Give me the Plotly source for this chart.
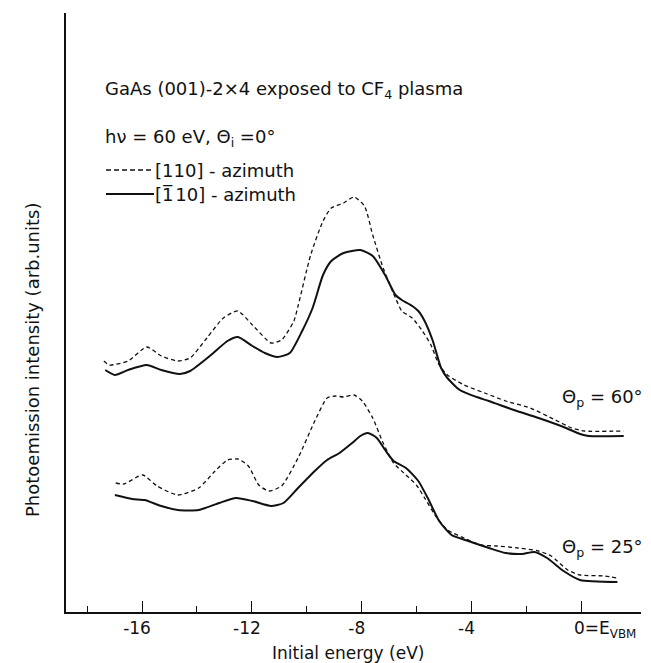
import plotly.graph_objects as go

# ---- data (initial energy in eV, intensity in arbitrary units) ----
e_110_60 = [-17.39, -17.19, -16.51, -15.83, -15.30, -14.70, -14.25, -13.64, -13.04, -12.51,
            -11.98, -11.30, -10.92, -10.47, -10.32, -9.86, -9.41, -9.11, -8.66, -8.28,
            -7.90, -7.60, -7.22, -6.77, -6.54, -6.16, -5.79, -5.48, -5.18, -4.88,
            -4.27, -3.52, -2.76, -1.86, -0.95, -0.35, 0.11, 1.54]
i_110_60 = [2.51, 2.47, 2.51, 2.65, 2.56, 2.51, 2.54, 2.74, 2.94, 3.01,
            2.87, 2.69, 2.72, 2.91, 3.06, 3.57, 3.91, 4.04, 4.09, 4.15,
            4.06, 3.77, 3.44, 3.14, 3.01, 2.94, 2.81, 2.67, 2.47, 2.37,
            2.27, 2.19, 2.11, 2.04, 1.92, 1.84, 1.81, 1.81]

e_m110_60 = [-17.34, -16.99, -16.51, -15.83, -15.30, -14.62, -14.25, -13.49, -12.89, -12.51,
             -11.98, -11.53, -11.07, -10.62, -10.17, -9.79, -9.41, -9.11, -8.66, -8.05,
             -7.60, -7.15, -6.77, -6.54, -6.16, -5.94, -5.71, -5.41, -5.11, -4.88,
             -4.43, -3.82, -3.37, -2.46, -1.56, -0.65, -0.05, 0.26, 1.54]
i_m110_60 = [2.42, 2.37, 2.42, 2.47, 2.42, 2.38, 2.41, 2.57, 2.71, 2.75,
             2.66, 2.59, 2.55, 2.59, 2.81, 3.04, 3.37, 3.51, 3.59, 3.62,
             3.56, 3.37, 3.17, 3.12, 3.06, 3.01, 2.91, 2.71, 2.44, 2.34,
             2.22, 2.15, 2.11, 2.02, 1.94, 1.85, 1.78, 1.76, 1.76]

e_110_25 = [-16.96, -16.66, -15.98, -15.45, -14.70, -13.94, -13.34, -12.89, -12.51, -12.13,
            -11.75, -11.38, -10.92, -10.32, -9.71, -9.26, -8.96, -8.66, -8.28, -7.98,
            -7.60, -7.22, -6.84, -6.39, -6.01, -5.71, -5.33, -4.88, -4.27, -3.66,
            -3.07, -2.31, -1.56, -1.10, -0.50, -0.05, 0.86, 1.31]
i_110_25 = [1.29, 1.28, 1.37, 1.26, 1.17, 1.24, 1.41, 1.52, 1.53, 1.46,
            1.27, 1.21, 1.26, 1.54, 1.91, 2.14, 2.16, 2.15, 2.17, 2.11,
            1.94, 1.69, 1.49, 1.37, 1.27, 1.14, 0.97, 0.82, 0.74, 0.67,
            0.66, 0.64, 0.61, 0.56, 0.42, 0.37, 0.36, 0.34]

e_m110_25 = [-16.99, -16.36, -15.91, -15.30, -14.70, -13.94, -13.19, -12.58, -11.98, -11.30,
             -10.85, -10.32, -9.71, -9.26, -8.81, -8.35, -8.05, -7.78, -7.45, -7.15,
             -6.84, -6.39, -5.94, -5.56, -5.18, -4.73, -4.12, -3.37, -2.76, -2.16,
             -1.71, -1.25, -0.65, -0.05, 1.31]
i_m110_25 = [1.17, 1.13, 1.12, 1.06, 1.02, 1.02, 1.09, 1.14, 1.11, 1.06,
             1.09, 1.24, 1.41, 1.52, 1.59, 1.69, 1.76, 1.79, 1.74, 1.62,
             1.51, 1.44, 1.31, 1.12, 0.91, 0.77, 0.71, 0.64, 0.59, 0.58,
             0.60, 0.54, 0.41, 0.32, 0.30]

major_ticks = [-16, -12, -8, -4]
major_labels = ["-16", "-12", "-8", "-4"]
minor_ticks = [-18, -14, -10, -6, -2]

# ---- figure ----
W, H = 651, 663
L, R, T, B = 58, 18, 5, 59
FONT = "DejaVu Sans"
INK = "#111"

def px(x, y):
    return (x - L) / (W - L - R), 1 - (y - T) / (H - T - B)

fig = go.Figure()
dash_style = dict(color=INK, width=1.3, dash="4px,3px", shape="spline", smoothing=0.6)
solid_style = dict(color=INK, width=2, shape="spline", smoothing=0.6)
fig.add_trace(go.Scatter(x=e_110_60, y=i_110_60, mode="lines", line=dash_style))
fig.add_trace(go.Scatter(x=e_m110_60, y=i_m110_60, mode="lines", line=solid_style))
fig.add_trace(go.Scatter(x=e_110_25, y=i_110_25, mode="lines", line=dash_style))
fig.add_trace(go.Scatter(x=e_m110_25, y=i_m110_25, mode="lines", line=solid_style))

ann = []
def text(x, y, s, size=18, xanchor="left", angle=0):
    ax, ay = px(x, y)
    ann.append(dict(x=ax, y=ay, xref="paper", yref="paper", text=s, showarrow=False,
                    xanchor=xanchor, yanchor="middle", textangle=angle, borderpad=0,
                    font=dict(family=FONT, size=size, color=INK)))

text(96, 82, "GaAs (001)-2×4 exposed to CF<sub>4</sub> plasma")
text(96, 130, "hν = 60 eV, Θ<sub>i</sub> =0°")
text(146, 162, "[110] - azimuth")
text(146, 186, "[1\u0305\u200a10] - azimuth")
text(636, 390, "Θ<sub>p</sub> = 60°", xanchor="right")
text(636, 540, "Θ<sub>p</sub> = 25°", xanchor="right")
text(24, 352, "Photoemission intensity (arb.units)", angle=-90, xanchor="center")
text(340, 645, "Initial energy (eV)", size=17, xanchor="center")
text(565, 621, "0=E<sub>VBM</sub>", size=17)

shapes = []
for (y, d) in [(162, "dash"), (186, "solid")]:
    x0, yy = px(98, y)
    x1, _ = px(146, y)
    shapes.append(dict(type="line", xref="paper", yref="paper", x0=x0, x1=x1, y0=yy, y1=yy,
                       line=dict(color=INK, width=1.3 if d == "dash" else 1.8,
                                 dash="5px,3px" if d == "dash" else "solid")))

fig.update_layout(
    width=W, height=H, margin=dict(l=L, r=R, t=T, b=B),
    paper_bgcolor="white", plot_bgcolor="white", showlegend=False,
    annotations=ann, shapes=shapes,
    font=dict(family=FONT, size=17, color=INK),
)
fig.update_xaxes(range=[-18.77, 2.17], tickmode="array", tickvals=major_ticks + [0],
                 ticktext=major_labels + [""], ticks="inside", ticklen=11, tickwidth=1.3,
                 tickcolor=INK, showline=True, linecolor=INK, linewidth=1.6,
                 showgrid=False, zeroline=False, ticklabelshift=-5,
                 tickfont=dict(family=FONT, size=17, color=INK),
                 minor=dict(tickmode="array", tickvals=minor_ticks, ticks="inside",
                            ticklen=6, tickwidth=1.3, tickcolor=INK, showgrid=False))
fig.update_yaxes(range=[0, 5.99], showticklabels=False, ticks="", showline=True,
                 linecolor=INK, linewidth=2, showgrid=False, zeroline=False)

fig.write_html("out.html")
